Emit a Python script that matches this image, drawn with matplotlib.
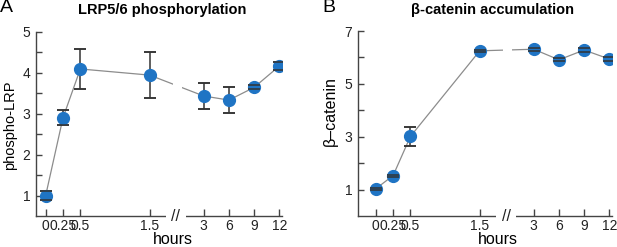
import numpy as np
import matplotlib
matplotlib.use("Agg")
import matplotlib.pyplot as plt
from matplotlib.patches import Rectangle

plt.rcParams['font.family'] = ['Liberation Sans', 'DejaVu Sans']

hours = [0, 0.25, 0.5, 1.5, 3, 6, 9, 12]
hour_labels = ['0', '0.25', '0.5', '1.5', '3', '6', '9', '12']

lrp = [1.00, 2.90, 4.09, 3.94, 3.43, 3.33, 3.64, 4.16]
lrp_err = [0.11, 0.19, 0.49, 0.57, 0.31, 0.31, 0.05, 0.10]

bcat = [1.03, 1.53, 3.01, 6.25, 6.31, 5.91, 6.28, 5.94]
bcat_err = [0.04, 0.04, 0.37, 0.05, 0.06, 0.06, 0.06, 0.06]

# broken axis mapping (hours -> position)
HK = np.array([-10.0, 0.0, 1.5, 3.0, 12.0, 100.0])
PK = np.array([-10.0, 0.0, 1.5, 2.28, 3.37, 3.37 + 88 * (1.09 / 9)])


def fwd(h):
    return np.interp(h, HK, PK)


def inv(p):
    return np.interp(p, PK, HK)


BLUE = '#1f74c4'
LINE = '#8c8c8c'
ERR = '#333333'
SPINE = '#444444'

fig = plt.figure(figsize=(6.17, 2.47), dpi=100)


def panel(rect, y, yerr, ylim, majors, minors, xlim_pos):
    ax = fig.add_axes(rect)
    ax.set_xscale('function', functions=(fwd, inv))
    ax.plot(hours, y, color=LINE, lw=0.9, zorder=2)
    ax.errorbar(hours, y, yerr=yerr, fmt='none', ecolor=ERR, elinewidth=1.1,
                capsize=4.5, capthick=1.1, zorder=2.5)
    ax.plot(hours, y, 'o', color=BLUE, ms=8.5, mec=BLUE, zorder=3)
    ax.errorbar(hours, y, yerr=yerr, fmt='none', ecolor=ERR, elinewidth=0,
                capsize=4.5, capthick=1.1, zorder=4)
    ax.set_xlim(inv(xlim_pos[0]), inv(xlim_pos[1]))
    ax.set_ylim(*ylim)
    ax.set_xticks(hours)
    ax.set_xticklabels(hour_labels)
    ax.set_yticks(majors)
    ax.set_yticklabels([str(m) for m in majors])
    ax.set_yticks(minors, minor=True)
    for s in ['top', 'right']:
        ax.spines[s].set_visible(False)
    for s in ['left', 'bottom']:
        ax.spines[s].set_color(SPINE)
        ax.spines[s].set_linewidth(1.0)
    ax.spines['left'].set_bounds(ylim[0], majors[-1])
    ax.tick_params(axis='both', which='both', direction='in', color=SPINE,
                   labelsize=10, labelcolor='#222222', width=1.0)
    ax.tick_params(axis='y', which='both', length=4, pad=4)
    ax.tick_params(axis='x', which='both', length=5, pad=2.5)
    tr = ax.get_xaxis_transform()
    # gap in the data line
    ax.add_patch(Rectangle((inv(1.83), 0.03), inv(1.96) - inv(1.83), 0.97,
                           transform=tr, facecolor='white', edgecolor='none',
                           zorder=2.2))
    # gap in the x axis
    ax.add_patch(Rectangle((inv(1.74), -0.03), inv(2.02) - inv(1.74), 0.06,
                           transform=tr, facecolor='white', edgecolor='none',
                           zorder=5, clip_on=False))
    ax.text(inv(1.88), 0.0, '//', transform=tr, ha='center', va='center',
            fontsize=11.5, color='#222222', zorder=6, clip_on=False)
    return ax


W, H = 617.0, 247.0
axA = panel([35.7 / W, 1 - 216 / H, 246 / W, 184.3 / H], lrp, lrp_err,
            (0.5, 5), [1, 2, 3, 4, 5], [1.5, 2.5, 3.5, 4.5],
            (-0.144, 3.405))
axB = panel([357.7 / W, 1 - 216 / H, 254 / W, 185 / H], bcat, bcat_err,
            (0, 7), [1, 3, 5, 7], [2, 4, 6], (-0.261, 3.405))

fig.text(0 / W, 1 - 7 / H, 'A', fontsize=14, ha='left', va='center')
fig.text(322 / W, 1 - 7 / H, 'B', fontsize=14, ha='left', va='center')
fig.text(162.5 / W, 1 - 10 / H, 'LRP5/6 phosphorylation', fontsize=10.5,
         fontweight='bold', ha='center', va='center')
fig.text(492.5 / W, 1 - 10 / H, 'β-catenin accumulation', fontsize=10.5,
         fontweight='bold', ha='center', va='center')
fig.text(10 / W, 1 - 125.5 / H, 'phospho-LRP', fontsize=10.5, rotation=90,
         ha='center', va='center')
fig.text(330 / W, 1 - 110.8 / H, 'β–catenin', fontsize=11.5, rotation=90,
         ha='center', va='center')
fig.text(172.8 / W, 1 - 239 / H, 'hours', fontsize=11.5, ha='center',
         va='center')
fig.text(498 / W, 1 - 239 / H, 'hours', fontsize=11.5, ha='center',
         va='center')

fig.savefig('out.png', dpi=100)
